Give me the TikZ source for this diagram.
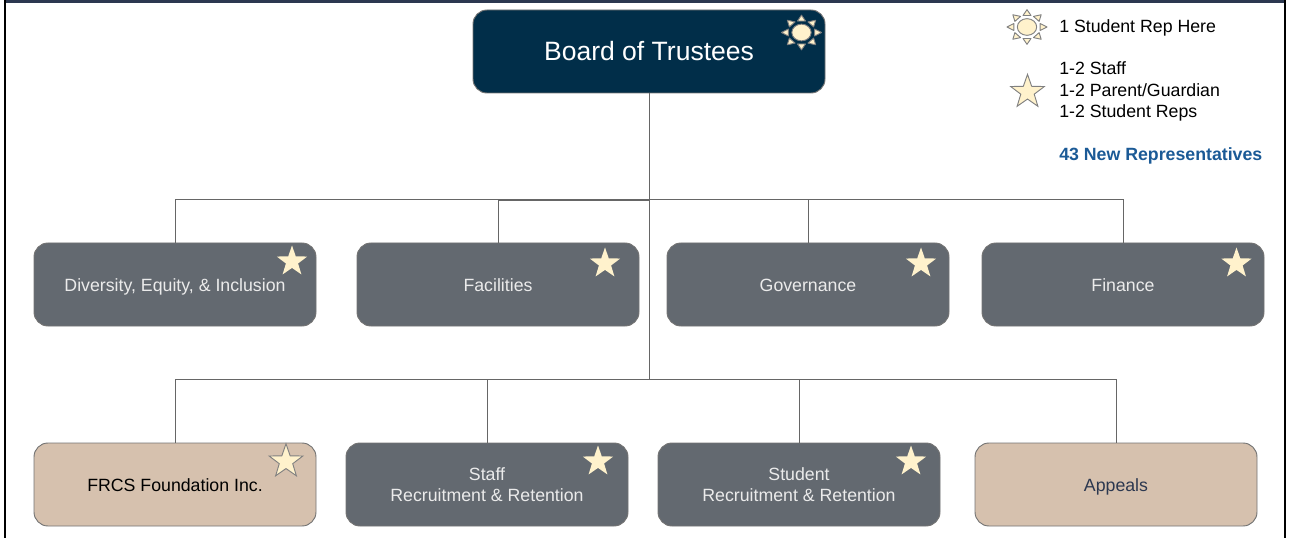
\documentclass[tikz,border=0pt]{standalone}
\usepackage{fontspec}
\setmainfont{Liberation Sans}
\usetikzlibrary{shapes.geometric,calc}
\definecolor{boardblue}{HTML}{012E49}
\definecolor{slatebox}{HTML}{636970}
\definecolor{tanbox}{HTML}{D6C1AE}
\definecolor{starfill}{HTML}{FFF2CC}
\definecolor{repblue}{HTML}{1B5A96}
\definecolor{framenavy}{HTML}{2C3850}
\tikzset{
  orgbox/.style={draw=black!55,line width=0.7pt,rounded corners=10.5pt,minimum width=211.5pt,minimum height=62.25pt,align=center,font=\fontsize{13.3}{16}\selectfont,inner sep=0pt},
  oneline/.style={text height=12.5pt,text depth=1.5pt},
  slate/.style={orgbox,fill=slatebox,text=white!92!black},
  tan/.style={orgbox,fill=tanbox},
  wire/.style={draw=black!60,line width=0.7pt},
  repstar/.style={star,star points=5,star point ratio=2.5,inner sep=0pt,minimum size=24pt,fill=starfill,draw=none},
  outlinestar/.style={repstar,minimum size=26.5pt,draw=black!50,line width=0.7pt},
  legend/.style={anchor=west,align=left,font=\fontsize{13.3}{16.2}\selectfont,inner sep=0pt},
}
% sun symbol: centre, name
\newcommand{\sunmark}[2]{%
  \foreach \ang in {0,45,...,315}
    \draw [fill=starfill,draw=black!50,line width=0.7pt,line join=round] ($(#1)+(\ang-17:10.3pt and 9pt)$) -- ($(#1)+(\ang:15pt and 13pt)$) -- ($(#1)+(\ang+17:10.3pt and 9pt)$) -- cycle;
  \node [ellipse,inner sep=0pt,minimum width=14.5pt,minimum height=12.5pt,fill=starfill,draw=black!50,line width=0.7pt] (#2) at (#1) {};
}
\begin{document}
\begin{tikzpicture}[x=0.75pt,y=-0.75pt]
\useasboundingbox (0,0) rectangle (1292,538);

% Drawing frame
\fill [framenavy] (4,0) rectangle (1284,3);
\fill [black] (3.5,0) rectangle (6,538);
\fill [black] (1283.5,0) rectangle (1286,538);

% Drawing boxes
\node [orgbox,fill=boardblue,text=white,minimum width=264pt,font=\fontsize{19.9}{24}\selectfont] (board) at (649,51.5) {Board of Trustees};
\node [slate,oneline] (diversity) at (175,284.5) {Diversity, Equity, \& Inclusion};
\node [slate,oneline] (facilities) at (498,284.5) {Facilities};
\node [slate,oneline] (governance) at (808,284.5) {Governance};
\node [slate,oneline] (finance) at (1123,284.5) {Finance};
\node [tan,oneline] (foundation) at (175,484.5) {FRCS Foundation Inc.};
\node [slate] (staff) at (487,484.5) {Staff\\Recruitment \& Retention};
\node [slate] (student) at (799,484.5) {Student\\Recruitment \& Retention};
\node [tan,oneline,text=framenavy] (appeals) at (1116,484.5) {Appeals};

% Drawing trunk and branches
\coordinate (upperbus) at (649,199);
\coordinate (facbus) at (649,200);
\coordinate (lowerbus) at (649,379);
\draw [wire] (board.south) -- (lowerbus);
\draw [wire] (upperbus) -| (diversity.north);
\draw [wire] (upperbus) -| (finance.north);
\draw [wire] (upperbus) -| (governance.north);
\draw [wire] (facbus) -| (facilities.north);
\draw [wire] (lowerbus) -| (foundation.north);
\draw [wire] (lowerbus) -| (staff.north);
\draw [wire] (lowerbus) -| (student.north);
\draw [wire] (lowerbus) -| (appeals.north);

% Marking committees by star
\node [repstar] (stardiv) at (292,261.5) {};
\node [repstar] (starfac) at (605,263.5) {};
\node [repstar] (stargov) at (921,263.5) {};
\node [repstar] (starfin) at (1236.5,263.5) {};
\node [outlinestar] (starfou) at (286,461.5) {};
\node [repstar] (starsta) at (598,461.5) {};
\node [repstar] (starstu) at (911,461.5) {};

% Marking board by sun
\sunmark{801.5,32.5}{sunboard}

% Legend
\sunmark{1027,27}{sunlegend}
\node [legend] (legendsun) at (1059,28) {1 Student Rep Here};
\node [outlinestar] (starlegend) at (1027.5,92) {};
\node [legend] (legendstar) at (1059,91.5) {1-2 Staff\\1-2 Parent/Guardian\\1-2 Student Reps};
\node [legend,text=repblue,font=\fontsize{13.3}{16}\selectfont\bfseries] (legendtotal) at (1059,156) {43 New Representatives};
\end{tikzpicture}
\end{document}
